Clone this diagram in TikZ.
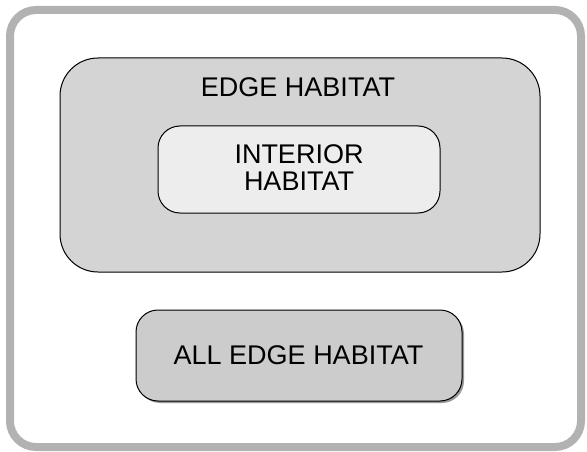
\documentclass[tikz,border=0pt]{standalone}
\usepackage{fontspec}
\setmainfont{Liberation Sans}
\begin{document}
\begin{tikzpicture}[x=1pt,y=-1pt,
  box/.style={draw=black,line width=1pt},
  lbl/.style={font=\fontsize{27}{27}\selectfont,inner sep=0pt,anchor=base}]
\useasboundingbox (0,0) rectangle (587,452);
\draw[draw=black!30,line width=8pt,rounded corners=26pt] (10,10) rectangle (581,447);
\draw[box,fill=black!17,rounded corners=38pt] (60,58) rectangle (540,272);
\node[lbl] (edge) at (298,96) {EDGE HABITAT};
\draw[box,fill=black!7,rounded corners=22pt] (158,126) rectangle (440,213);
\node[lbl] (interior1) at (299,164) {INTERIOR};
\node[lbl] (interior2) at (299,190) {HABITAT};
\draw[fill=black!40,draw=none,rounded corners=22pt] (138,312) rectangle (464,403);
\draw[box,fill=black!20,rounded corners=22pt] (136,310) rectangle (462,401);
\node[lbl] (all) at (298.5,364) {ALL EDGE HABITAT};
\end{tikzpicture}
\end{document}
